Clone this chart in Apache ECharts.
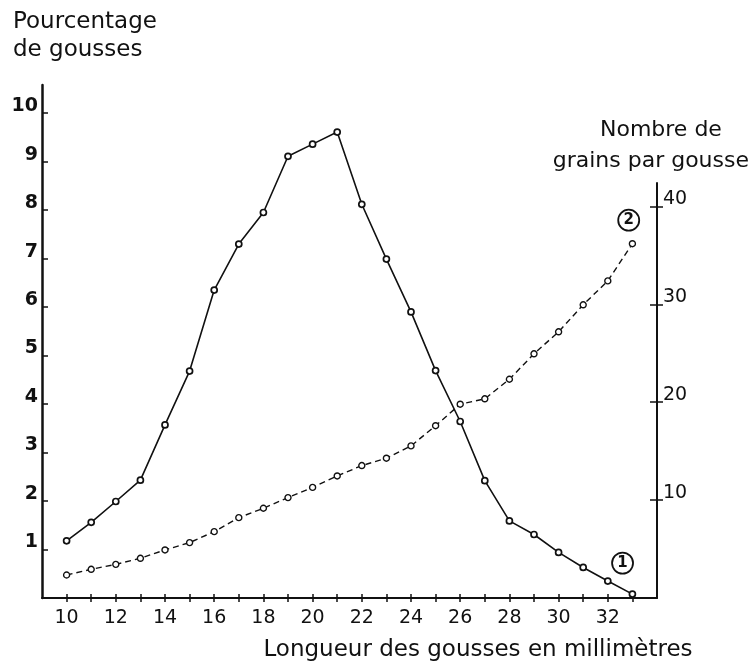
<!DOCTYPE html>
<html>
<head>
<meta charset="utf-8">
<title>Longueur des gousses</title>
<script src="https://cdn.jsdelivr.net/npm/echarts@6/dist/echarts.min.js"></script>
<style>
  html, body { margin: 0; padding: 0; background: #fff; }
  #chart { width: 754px; height: 669px; }
</style>
</head>
<body>
<div id="chart"></div>
<script>
// longueur des gousses en mm
var longueurs = [10, 11, 12, 13, 14, 15, 16, 17, 18, 19, 20, 21, 22, 23, 24, 25, 26, 27, 28, 29, 30, 31, 32, 33];
// courbe 1 : pourcentage de gousses (axe de gauche)
var pourcentage = [1.18, 1.56, 1.99, 2.43, 3.57, 4.68, 6.35, 7.3, 7.95, 9.11, 9.36, 9.61, 8.12, 6.99, 5.9, 4.69, 3.64, 2.42, 1.59, 1.31, 0.94, 0.63, 0.35, 0.08];
// courbe 2 : nombre de grains par gousse (axe de droite)
var grains = [2.35, 2.93, 3.44, 4.06, 4.91, 5.66, 6.78, 8.21, 9.17, 10.26, 11.3, 12.47, 13.53, 14.28, 15.54, 17.6, 19.8, 20.35, 22.35, 24.95, 27.2, 29.96, 32.4, 36.2];

var xLabels = [10, 12, 14, 16, 18, 20, 22, 24, 26, 28, 30, 32];
var pctTicks = [1, 2, 3, 4, 5, 6, 7, 8, 9, 10];
var grainTicks = [10, 20, 30, 40];

var font = 'DejaVu Sans';
var ink = '#111';

function pairs(ys) {
  return longueurs.map(function (x, i) { return [x, ys[i]]; });
}

// numeros de courbe entoures
function circled(num, coord) {
  return {
    symbol: 'circle', symbolSize: 21,
    itemStyle: { color: '#fff', borderColor: ink, borderWidth: 1.8 },
    label: { show: true, formatter: num, color: ink, fontSize: 15, fontWeight: 'bold', fontFamily: font },
    data: [{ coord: coord }]
  };
}

var chart = echarts.init(document.getElementById('chart'));
chart.setOption({
  animation: false,
  backgroundColor: '#fff',
  grid: [
    { left: 42, right: 97, top: 85, bottom: 71 },
    { left: 42, right: 97, top: 183, bottom: 71 }
  ],
  xAxis: [
    {
      type: 'value', gridIndex: 0, min: 9, max: 34, interval: 1, position: 'bottom',
      axisLine: { onZero: false, lineStyle: { color: ink, width: 2 } },
      axisTick: { inside: true, length: 4, customValues: longueurs, lineStyle: { color: ink, width: 1.5 } },
      axisLabel: {
        customValues: xLabels, margin: 11, fontSize: 19, fontFamily: font, color: ink,
        formatter: function (v) { return xLabels.indexOf(v) >= 0 ? String(v) : ''; }
      },
      splitLine: { show: false }
    },
    {
      // ticks qui traversent l'axe (partie exterieure)
      type: 'value', gridIndex: 0, min: 9, max: 34, interval: 1, position: 'bottom',
      axisLine: { show: false, onZero: false },
      axisTick: { inside: false, length: 4, customValues: longueurs, lineStyle: { color: ink, width: 1.5 } },
      axisLabel: { show: false },
      splitLine: { show: false }
    },
    { type: 'value', gridIndex: 1, min: 9, max: 34, show: false }
  ],
  yAxis: [
    {
      type: 'value', gridIndex: 0, min: 0, max: 10.58, interval: 1, position: 'left',
      axisLine: { show: true, onZero: false, lineStyle: { color: ink, width: 2.5 } },
      axisTick: { show: true, inside: true, length: 6, customValues: pctTicks, lineStyle: { color: ink, width: 1.5 } },
      axisLabel: {
        customValues: pctTicks, margin: 4, fontSize: 19, fontWeight: 'bold', fontFamily: font, color: ink,
        verticalAlign: 'bottom', lineHeight: 14,
        formatter: function (v) { return pctTicks.indexOf(v) >= 0 ? String(v) : ''; }
      },
      splitLine: { show: false }
    },
    {
      type: 'value', gridIndex: 1, min: 0, max: 42.4, interval: 10, position: 'right',
      axisLine: { show: true, onZero: false, lineStyle: { color: ink, width: 2 } },
      axisTick: { show: true, inside: true, length: 7, customValues: grainTicks, lineStyle: { color: ink, width: 1.5 } },
      axisLabel: {
        customValues: grainTicks, margin: 6, fontSize: 19, fontFamily: font, color: ink,
        verticalAlign: 'bottom', lineHeight: 14,
        formatter: function (v) { return grainTicks.indexOf(v) >= 0 ? String(v) : ''; }
      },
      splitLine: { show: false }
    },
    {
      type: 'value', gridIndex: 1, min: 0, max: 42.4, interval: 10, position: 'right',
      axisLine: { show: false, onZero: false },
      axisTick: { show: true, inside: false, length: 6, customValues: grainTicks, lineStyle: { color: ink, width: 1.5 } },
      axisLabel: { show: false },
      splitLine: { show: false }
    }
  ],
  series: [
    {
      name: 'Pourcentage de gousses',
      type: 'line', xAxisIndex: 0, yAxisIndex: 0,
      data: pairs(pourcentage),
      symbol: 'circle', symbolSize: 6,
      itemStyle: { color: '#fff', borderColor: ink, borderWidth: 1.7 },
      lineStyle: { color: ink, width: 1.6 },
      markPoint: circled('1', [32.6, 0.72])
    },
    {
      name: 'Nombre de grains par gousse',
      type: 'line', xAxisIndex: 2, yAxisIndex: 1,
      data: pairs(grains),
      symbol: 'circle', symbolSize: 6,
      itemStyle: { color: '#fff', borderColor: ink, borderWidth: 1.4 },
      lineStyle: { color: ink, width: 1.4, type: [6, 4] },
      markPoint: circled('2', [32.85, 38.6])
    }
  ],
  graphic: [
    {
      type: 'text', x: 13, y: 22,
      style: { text: 'Pourcentage', fontSize: 23, fontFamily: font, fill: ink, align: 'left', verticalAlign: 'middle' }
    },
    {
      type: 'text', x: 13, y: 50,
      style: { text: 'de gousses', fontSize: 23, fontFamily: font, fill: ink, align: 'left', verticalAlign: 'middle' }
    },
    {
      type: 'text', x: 600, y: 130,
      style: { text: 'Nombre de', fontSize: 22, fontFamily: font, fill: ink, align: 'left', verticalAlign: 'middle' }
    },
    {
      type: 'text', x: 749, y: 161,
      style: { text: 'grains par gousse', fontSize: 22, fontFamily: font, fill: ink, align: 'right', verticalAlign: 'middle' }
    },
    {
      type: 'text', x: 478, y: 650,
      style: { text: 'Longueur des gousses en millimètres', fontSize: 23, fontFamily: font, fill: ink, align: 'center', verticalAlign: 'middle' }
    }
  ]
});
</script>
</body>
</html>
